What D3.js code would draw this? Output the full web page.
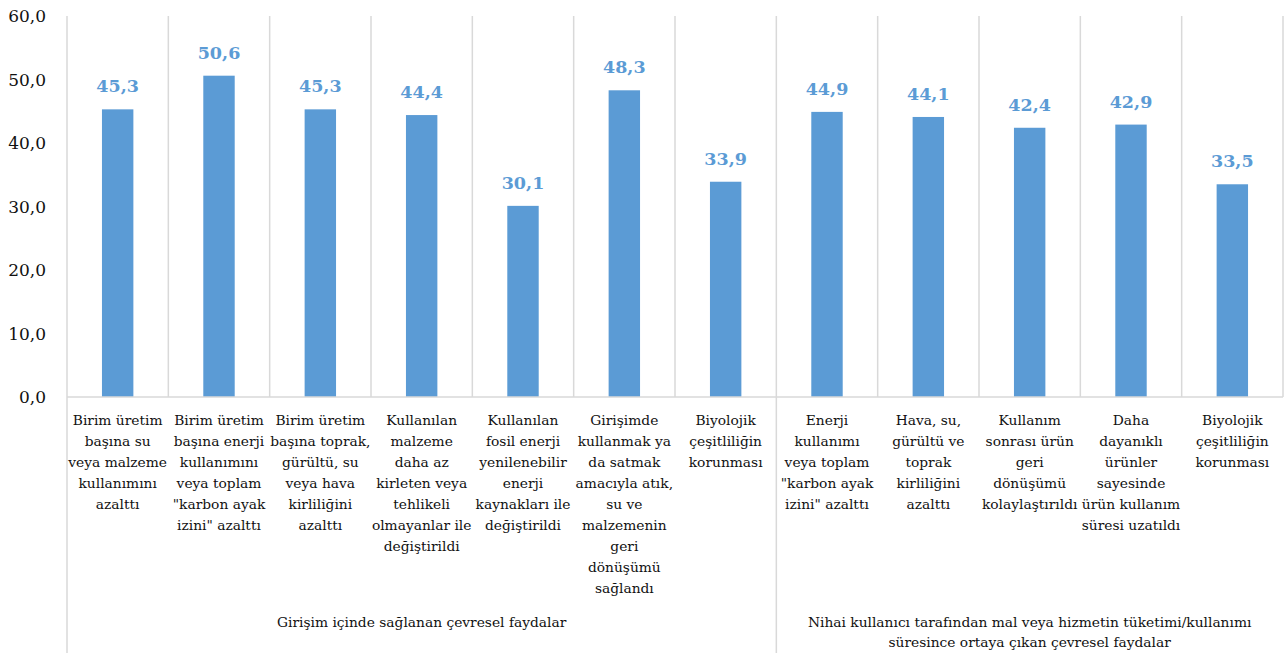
<!DOCTYPE html>
<html lang="tr">
<head>
    <meta charset="UTF-8">
    <title>Çevresel faydalar</title>
    <script src="https://d3js.org/d3.v7.min.js"></script>
    <style>
        body { margin: 0; background: #fff; }
        svg { display: block; font-family: "DejaVu Serif", serif; }
    </style>
</head>
<body>
    <svg id="chart" width="1285" height="653"></svg>
    <script>
        // category labels, broken into lines as in the original
        const categories = [
            ["Birim üretim", "başına su", "veya malzeme", "kullanımını", "azalttı"],
            ["Birim üretim", "başına enerji", "kullanımını", "veya toplam", "\"karbon ayak", "izini\" azalttı"],
            ["Birim üretim", "başına toprak,", "gürültü, su", "veya hava", "kirliliğini", "azalttı"],
            ["Kullanılan", "malzeme", "daha az", "kirleten veya", "tehlikeli", "olmayanlar ile", "değiştirildi"],
            ["Kullanılan", "fosil enerji", "yenilenebilir", "enerji", "kaynakları ile", "değiştirildi"],
            ["Girişimde", "kullanmak ya", "da satmak", "amacıyla atık,", "su ve", "malzemenin", "geri", "dönüşümü", "sağlandı"],
            ["Biyolojik", "çeşitliliğin", "korunması"],
            ["Enerji", "kullanımı", "veya toplam", "\"karbon ayak", "izini\" azalttı"],
            ["Hava, su,", "gürültü ve", "toprak", "kirliliğini", "azalttı"],
            ["Kullanım", "sonrası ürün", "geri", "dönüşümü", "kolaylaştırıldı"],
            ["Daha", "dayanıklı", "ürünler", "sayesinde", "ürün kullanım", "süresi uzatıldı"],
            ["Biyolojik", "çeşitliliğin", "korunması"]
        ];
        const values = [45.3, 50.6, 45.3, 44.4, 30.1, 48.3, 33.9, 44.9, 44.1, 42.4, 42.9, 33.5];

        const groups = [
            { lines: ["Girişim içinde sağlanan çevresel faydalar"], first: 0, last: 6 },
            { lines: ["Nihai kullanıcı tarafından mal veya hizmetin tüketimi/kullanımı", "süresince ortaya çıkan çevresel faydalar"], first: 7, last: 11 }
        ];
        const yTicks = [0, 10, 20, 30, 40, 50, 60];

        const svg = d3.select("#chart");
        const plotLeft = 67, plotRight = 1283, plotTop = 16, zeroY = 397, plotBottom = 653;
        const gridColor = "#d9d9d9";
        const barColor = "#5b9bd5";

        const idx = d3.range(values.length);
        const x = d3.scaleBand().domain(idx).range([plotLeft, plotRight]).padding(0);
        const y = d3.scaleLinear().domain([0, 60]).range([zeroY, plotTop]);
        const fmt = v => d3.format(".1f")(v).replace(".", ",");

        // vertical gridlines at category boundaries
        const bounds = idx.map(i => x(i)).concat([plotRight]);
        svg.append("g").selectAll("line")
            .data(bounds)
            .enter().append("line")
            .attr("x1", d => d).attr("x2", d => d)
            .attr("y1", plotTop).attr("y2", zeroY)
            .attr("stroke", gridColor).attr("stroke-width", 1.5);

        // lines of the multi-level category axis
        const sepX = [plotLeft, x(groups[1].first)];
        svg.append("g").selectAll("line")
            .data(sepX)
            .enter().append("line")
            .attr("x1", d => d).attr("x2", d => d)
            .attr("y1", zeroY).attr("y2", plotBottom)
            .attr("stroke", gridColor).attr("stroke-width", 1.5);

        // bars
        const barW = x.bandwidth() * 0.31;
        svg.append("g").selectAll("rect")
            .data(values)
            .enter().append("rect")
            .attr("x", (d, i) => x(i) + (x.bandwidth() - barW) / 2)
            .attr("y", d => y(d))
            .attr("width", barW)
            .attr("height", d => zeroY - y(d))
            .attr("fill", barColor);

        // zero line
        svg.append("line")
            .attr("x1", plotLeft).attr("x2", plotRight)
            .attr("y1", zeroY).attr("y2", zeroY)
            .attr("stroke", gridColor).attr("stroke-width", 1.5);

        // value labels
        svg.append("g").selectAll("text")
            .data(values)
            .enter().append("text")
            .attr("x", (d, i) => x(i) + x.bandwidth() / 2)
            .attr("y", d => y(d) - 17)
            .attr("text-anchor", "middle")
            .attr("font-size", 17.5)
            .attr("font-weight", "bold")
            .attr("fill", barColor)
            .text(d => fmt(d));

        // y axis labels
        svg.append("g").selectAll("text")
            .data(yTicks)
            .enter().append("text")
            .attr("x", 46)
            .attr("y", d => y(d) + 6)
            .attr("text-anchor", "end")
            .attr("font-size", 17)
            .attr("fill", "#111")
            .text(d => fmt(d));

        // category labels
        const cat = svg.append("g").selectAll("text")
            .data(categories)
            .enter().append("text")
            .attr("text-anchor", "middle")
            .attr("font-size", 13.8)
            .attr("fill", "#111");
        cat.selectAll("tspan")
            .data((d, i) => d.map(l => ({ l, i })))
            .enter().append("tspan")
            .attr("x", d => x(d.i) + x.bandwidth() / 2)
            .attr("y", (d, j) => 425 + j * 21)
            .text(d => d.l);

        // group labels
        const grp = svg.append("g").selectAll("text")
            .data(groups)
            .enter().append("text")
            .attr("text-anchor", "middle")
            .attr("font-size", 13.8)
            .attr("fill", "#111");
        grp.selectAll("tspan")
            .data(g => g.lines.map((l, j) => ({ l, j, g })))
            .enter().append("tspan")
            .attr("x", d => (x(d.g.first) + x(d.g.last) + x.bandwidth()) / 2)
            .attr("y", d => 627 + d.j * 20)
            .text(d => d.l);
    </script>
</body>
</html>
